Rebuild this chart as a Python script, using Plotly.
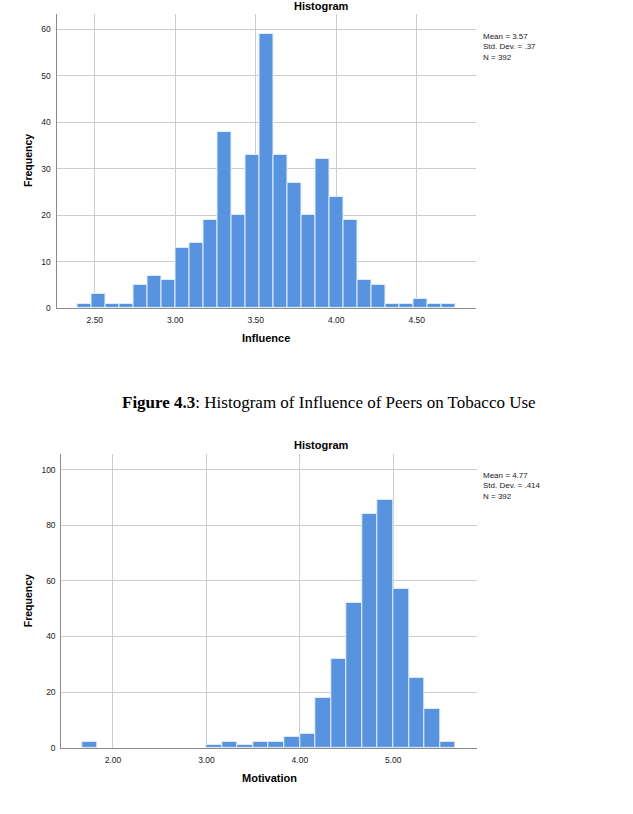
import plotly.graph_objects as go

W, H = 633, 814

# ---------------- data ----------------
influence_counts = [1, 3, 1, 1, 5, 7, 6, 13, 14, 19, 38, 20, 33, 59, 33, 27, 20, 32, 24, 19, 6, 5, 1, 1, 2, 1, 1]
influence_bin_start = 2.395
influence_bin_width = 0.0868
influence_xticks = [2.5, 3.0, 3.5, 4.0, 4.5]
influence_yticks = [0, 10, 20, 30, 40, 50, 60]
influence_stats = ["Mean = 3.57", "Std. Dev. = .37", "N = 392"]

motivation_bin_width = 1 / 6
motivation_bin_lefts = [10, 18, 19, 20, 21, 22, 23, 24, 25, 26, 27, 28, 29, 30, 31, 32, 33]  # in sixths
motivation_counts = [2, 1, 2, 1, 2, 2, 4, 5, 18, 32, 52, 84, 89, 57, 25, 14, 2]
motivation_xticks = [2.0, 3.0, 4.0, 5.0]
motivation_yticks = [0, 20, 40, 60, 80, 100]
motivation_stats = ["Mean = 4.77", "Std. Dev. = .414", "N = 392"]

caption_bold = "Figure 4.3"
caption_rest = ": Histogram of Influence of Peers on Tobacco Use"

# ---------------- derived ----------------
inf_x = [influence_bin_start + influence_bin_width * (i + 0.5) for i in range(len(influence_counts))]
mot_x = [(k + 0.5) * motivation_bin_width for k in motivation_bin_lefts]

BAR = "#5893e0"
EDGE = "#e4eefa"
GRID = "#cccccc"
AXIS = "#8a8a8a"
FONT = "Liberation Sans"


def py(px):
    return 1 - px / H


def pxx(px):
    return px / W


fig = go.Figure()
fig.add_trace(go.Bar(x=inf_x, y=influence_counts, width=influence_bin_width,
                     marker=dict(color=BAR, line=dict(color=EDGE, width=1)),
                     xaxis="x", yaxis="y", showlegend=False))
fig.add_trace(go.Bar(x=mot_x, y=motivation_counts, width=motivation_bin_width,
                     marker=dict(color=BAR, line=dict(color=EDGE, width=1)),
                     xaxis="x2", yaxis="y2", showlegend=False))

axis_common = dict(showgrid=True, gridcolor=GRID, gridwidth=1, zeroline=False,
                   showline=True, linecolor=AXIS, linewidth=1, ticks="",
                   tickfont=dict(family=FONT, size=8.5, color="#222222"), fixedrange=True)

fig.update_layout(
    width=W, height=H, margin=dict(l=0, r=0, t=0, b=0),
    paper_bgcolor="white", plot_bgcolor="white", bargap=0,
    xaxis=dict(domain=[pxx(56.5), pxx(476)], range=[2.262, 4.868],
               tickvals=influence_xticks, ticktext=[f"{v:.2f}" for v in influence_xticks],
               anchor="y", ticklabelstandoff=4, **axis_common),
    yaxis=dict(domain=[py(310), py(14)], range=[0, 63.27],
               tickvals=influence_yticks, anchor="x", ticklabelstandoff=3, **axis_common),
    xaxis2=dict(domain=[pxx(61.3), pxx(476.5)], range=[1.447, 5.891],
                tickvals=motivation_xticks, ticktext=[f"{v:.2f}" for v in motivation_xticks],
                anchor="y2", ticklabelstandoff=4, **axis_common),
    yaxis2=dict(domain=[py(752.3), py(456.7)], range=[0, 105.7],
                tickvals=motivation_yticks, anchor="x2", ticklabelstandoff=3, **axis_common),
)

ann = []


def add_text(text, x, y, size, bold=False, angle=0, xanchor="center", family=FONT, align="center"):
    ann.append(dict(text=f"<b>{text}</b>" if bold else text, x=pxx(x), y=py(y),
                    xref="paper", yref="paper", showarrow=False, textangle=angle,
                    xanchor=xanchor, yanchor="middle", align=align,
                    font=dict(family=family, size=size, color="black")))


# chart 1 texts
add_text("Histogram", 321, 6, 11, bold=True)
add_text("Frequency", 28, 162, 10.5, bold=True, angle=-90)
add_text("Influence", 266, 340, 11, bold=True)
ann.append(dict(text="<br>".join(influence_stats), x=pxx(481), y=py(30), xref="paper", yref="paper",
                showarrow=False, xanchor="left", yanchor="top", align="left",
                font=dict(family=FONT, size=8, color="#222222")))

# chart 2 texts
add_text("Histogram", 321, 448, 11, bold=True)
add_text("Frequency", 28, 605, 10.5, bold=True, angle=-90)
add_text("Motivation", 269, 783, 11, bold=True)
ann.append(dict(text="<br>".join(motivation_stats), x=pxx(481), y=py(472), xref="paper", yref="paper",
                showarrow=False, xanchor="left", yanchor="top", align="left",
                font=dict(family=FONT, size=8, color="#222222")))

# caption
ann.append(dict(text=f"<b>{caption_bold}</b>{caption_rest}", x=pxx(538), y=py(405),
                xref="paper", yref="paper", showarrow=False, xanchor="right", yanchor="middle",
                font=dict(family="Liberation Serif", size=17, color="black")))

fig.update_layout(annotations=ann)
fig.write_html("out.html")
